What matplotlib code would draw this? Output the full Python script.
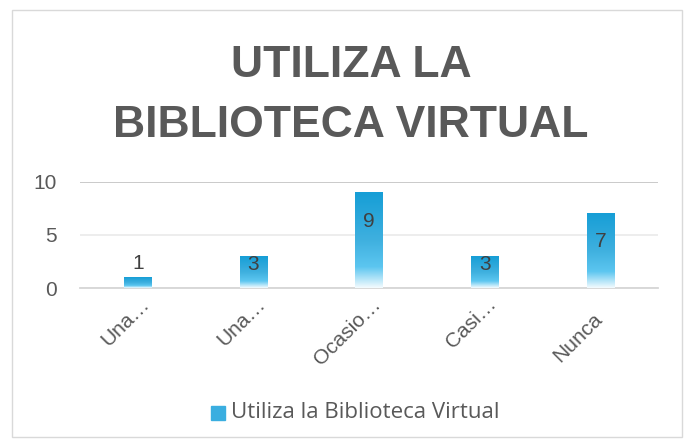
import matplotlib
matplotlib.use('Agg')

import matplotlib.pyplot as plt, numpy as np
from matplotlib.colors import LinearSegmentedColormap
from matplotlib.patches import Rectangle
from matplotlib.transforms import ScaledTranslation

categories = ['Una…', 'Una…', 'Ocasio…', 'Casi…', 'Nunca']
values = [1, 3, 9, 3, 7]
series_name = 'Utiliza la Biblioteca Virtual'
title_lines = ['UTILIZA LA', 'BIBLIOTECA VIRTUAL']
yticks = [0, 5, 10]

# label offsets (data units, relative to bar top) as Excel placed them
label_offset = [1.3, -0.75, -2.7, -0.75, -2.6]
# category label anchor offsets in px (Excel pushes the untruncated one back)
tick_shift = [(9, -13), (9, -13), (9, -13), (9, -13), (-1, -28)]

grad = LinearSegmentedColormap.from_list(
    'bar', [(0.0, '#169ed6'), (0.5, '#3fb0df'), (0.78, '#5cc6f0'), (1.0, '#f4fbfe')])

fig = plt.figure(figsize=(6.9, 4.47), dpi=100)
fig.patches.append(Rectangle((12 / 690, 1 - 437 / 447), 670 / 690, 427 / 447,
                             transform=fig.transFigure, fill=False,
                             edgecolor='#d9d9d9', linewidth=1))

ax = fig.add_axes([80 / 690, 1 - 288 / 447, 578 / 690, 106 / 447])
x = np.arange(len(categories))
bars = ax.bar(x, values, width=0.235, color='none', zorder=3)

# gradient fill for each bar
g = np.linspace(0, 1, 256).reshape(-1, 1)
for b in bars:
    x0, y0 = b.get_x(), b.get_y()
    ax.imshow(g, cmap=grad, aspect='auto', zorder=3,
              extent=(x0, x0 + b.get_width(), y0, y0 + b.get_height()))

for xi, v, off in zip(x, values, label_offset):
    ax.text(xi, v + off, str(v), ha='center', va='center', fontsize=15,
            color='#404040', family='Liberation Sans', zorder=4)

ax.set_xlim(-0.5, len(categories) - 0.5)
ax.set_ylim(0, 10)
ax.set_yticks(yticks)
ax.set_yticklabels([str(t) for t in yticks], fontsize=15, color='#595959',
                   family='Liberation Sans')
ax.set_xticks(x)
ax.set_xticklabels([])
for xi, cat, (dx, dy) in zip(x, categories, tick_shift):
    tr = ax.get_xaxis_transform() + ScaledTranslation(dx / 100, dy / 100, fig.dpi_scale_trans)
    ax.text(xi, 0, cat, transform=tr, rotation=45, ha='right', va='center',
            rotation_mode='anchor', fontsize=15, color='#595959',
            family='Liberation Sans', clip_on=False)
ax.tick_params(axis='both', length=0)
ax.tick_params(axis='y', pad=17)
for s in ['top', 'right', 'left']:
    ax.spines[s].set_visible(False)
ax.spines['bottom'].set_color('#d6d6d6')
ax.spines['bottom'].set_linewidth(1.3)
ax.grid(axis='y', color='#ececec', linewidth=1.3, zorder=0)
ax.set_axisbelow(True)
ax.axhline(10, color='#c8c8c8', linewidth=1.3, zorder=1)

for line, yb in zip(title_lines, [77, 137]):
    fig.text(351 / 690, 1 - yb / 447, line, ha='center', va='baseline',
             fontsize=32, fontweight='bold', color='#595959',
             family='Liberation Sans')

# legend
fig.patches.append(Rectangle((211 / 690, 1 - 420 / 447), 14 / 690, 14 / 447,
                             transform=fig.transFigure, color='#3aaee0'))
fig.text(231 / 690, 1 - 413 / 447, series_name, ha='left', va='center',
         fontsize=16, color='#595959', family='Open Sans')

plt.savefig('out.png', dpi=100)
plt.close()
